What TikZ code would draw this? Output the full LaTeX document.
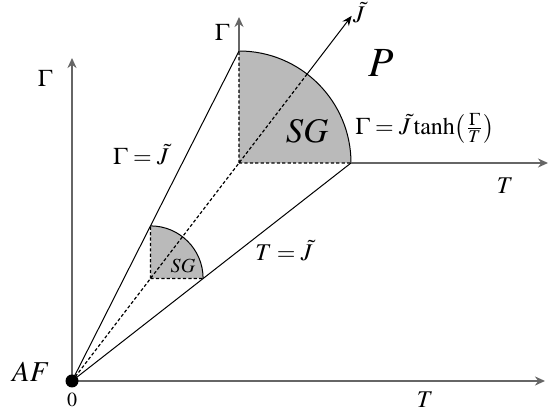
\documentclass[tikz,border=0pt]{standalone}
\usepackage{mathptmx}
\usetikzlibrary{arrows.meta}
\begin{document}
\begin{tikzpicture}[x=.5pt,y=.5pt,
  every node/.style={inner sep=1pt},
  axisline/.style={line width=1pt,draw=black!60,-{Stealth[length=5pt,width=4.5pt]}},
  rayline/.style={line width=.5pt},
  dashline/.style={line width=.6pt,dash pattern=on 1.6pt off 1.1pt},
  region/.style={fill=black!27}]
  \def\R{112}\def\r{52.6}
  \useasboundingbox (-72,-29) rectangle (478,381);
  % corners of the two quarter discs
  \coordinate (O) at (0,0);
  \coordinate (C) at (167,218);
  \coordinate (A) at (167,330);
  \coordinate (B) at (279,218);
  \coordinate (c) at (78.5,102.5);
  \coordinate (a) at (78.5,155.1);
  \coordinate (b) at (131.1,102.5);
  \coordinate (X) at (235.1,306.9);
  \coordinate (Jt) at (279.7,365.2);
  \coordinate (Gt) at (167,364);
  \coordinate (Tt) at (476,218);
  \fill[region] (C) -- (B) arc[start angle=0,end angle=90,radius=\R] -- cycle;
  \fill[region] (c) -- (b) arc[start angle=0,end angle=90,radius=\r] -- cycle;
  \draw[rayline] (B) arc[start angle=0,end angle=90,radius=\R];
  \draw[rayline] (b) arc[start angle=0,end angle=90,radius=\r];
  \draw[dashline] (C) -- (A) (C) -- (B) (c) -- (a) (c) -- (b) (O) -- (X);
  \draw[rayline] (O) -- (A) (O) -- (B);
  \draw[rayline,-{Stealth[length=5pt,width=4pt]}] (X) -- (Jt);
  \draw[axisline,line width=.8pt] (A) -- (Gt);
  \draw[axisline] (B) -- (Tt);
  \draw[axisline] (O) -- (0,323);
  \draw[axisline] (O) -- (473,0);
  \fill (O) circle (6.5);
  % labels
  \node[font=\large] (gam) at (-27,303) {$\Gamma$};
  \node[font=\large] (tee) at (353,-19) {$T$};
  \node (zero) at (0,-19) {$0$};
  \node[font=\Large] (af) at (-41,9) {$AF$};
  \node[font=\large] (gam2) at (150,349) {$\Gamma$};
  \node[font=\large] (tee2) at (433,195) {$T$};
  \node[font=\large] (jt) at (287,368) {$\tilde J$};
  \node[font=\huge] (p) at (309,318) {$P$};
  \node[font=\LARGE] (sg) at (235,250) {$SG$};
  \node (sg2) at (111,115) {$SG$};
  \node[font=\large] (gj) at (69,226) {$\Gamma=\tilde J$};
  \node[font=\large] (tj) at (212,130) {$T=\tilde J$};
  \node[font=\large,anchor=west] (tanh) at (281,253)
    {$\Gamma=\tilde J\tanh\bigl(\frac{\Gamma}{T}\bigr)$};
\end{tikzpicture}
\end{document}
